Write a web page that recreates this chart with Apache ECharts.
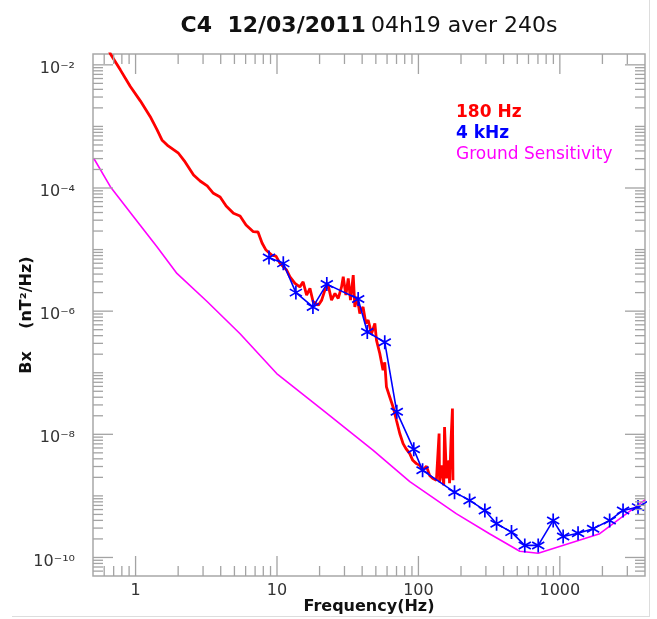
<!DOCTYPE html>
<html>
<head>
<meta charset="utf-8">
<script src="https://cdn.jsdelivr.net/npm/echarts@6/dist/echarts.min.js"></script>
<style>
  html, body { margin: 0; padding: 0; background: #fff; }
  #chart { width: 657px; height: 619px; }
</style>
</head>
<body>
<div id="chart"></div>
<script>
// Bx power spectral density, C4, 12/03/2011 04h19, 240 s average

// 180 Hz sampled spectrum
const redFreq = [0.611,0.663,0.780,0.918,1.08,1.27,1.42,1.536,1.70,2.01,2.24,2.57,2.86,3.21,3.55,3.96,4.37,4.92,5.48,6.04,6.80,7.34,7.84,8.36,9.18,9.84,10.5,11.7,12.35,13.4,14.5,15.3,16.2,17.1,18.0,19.6,20.7,21.8,23.0,24.3,25.7,27.1,28.6,29.4,30.7,31.9,33.1,34.6,35.5,36.9,38.5,40.6,42.5,44.1,46.6,49.2,50.5,53.3,56.2,57.8,59.4,62.7,66.2,69.9,73.8,77.9,81.4,86.8,91.2,96.8,102,107,114,120,126,134,140,141,146,151,153,158,164,166,170,174,175.5];
const redVal = [2.55e-2,1.51e-2,8.29e-3,4.44e-3,2.60e-3,1.44e-3,8.77e-4,6.03e-4,4.82e-4,3.67e-4,2.65e-4,1.63e-4,1.30e-4,1.08e-4,8.20e-5,7.14e-5,5.09e-5,3.88e-5,3.51e-5,2.50e-5,1.95e-5,1.93e-5,1.28e-5,9.82e-6,8.14e-6,7.84e-6,5.97e-6,4.65e-6,3.61e-6,2.82e-6,2.48e-6,2.99e-6,1.82e-6,2.34e-6,1.42e-6,1.25e-6,1.51e-6,2.19e-6,2.65e-6,1.51e-6,1.94e-6,1.61e-6,2.48e-6,3.61e-6,1.82e-6,3.40e-6,1.51e-6,3.85e-6,1.17e-6,1.71e-6,9.18e-7,1.17e-6,6.31e-7,7.14e-7,4.34e-7,6.31e-7,3.38e-7,2.05e-7,1.10e-7,1.48e-7,5.88e-8,4.04e-8,2.78e-8,1.69e-8,1.03e-8,7.06e-9,5.92e-9,4.85e-9,3.78e-9,3.34e-9,3.13e-9,2.60e-9,3.02e-9,2.15e-9,1.93e-9,1.79e-9,1.03e-8,1.66e-9,3.13e-9,1.48e-9,1.31e-8,1.93e-9,3.78e-9,1.60e-9,7.98e-9,2.62e-8,1.79e-9];

// 4 kHz sampled spectrum (band averages)
const blueFreq = [8.78,11.08,13.6,17.95,22.5,37.5,43.5,57.8,70.3,92.7,107,180,230,295,357,455,565,703,897,1055,1345,1718,2250,2798,3570,4500];
const blueVal = [7.41e-6,5.97e-6,2.00e-6,1.17e-6,2.75e-6,1.57e-6,4.60e-7,3.13e-7,2.32e-8,5.70e-9,2.60e-9,1.15e-9,8.45e-10,5.81e-10,3.53e-10,2.58e-10,1.57e-10,1.57e-10,4.00e-10,2.19e-10,2.48e-10,2.93e-10,4.00e-10,5.81e-10,6.57e-10,9.1e-10];

// Ground sensitivity of the search coil
const gsFreq = [0.506,0.663,0.968,1.416,1.96,3.19,5.48,9.95,21.2,47.9,86.9,185,318,521,703,1914,4000];
const gsVal = [3.04e-4,1.05e-4,3.41e-5,1.11e-5,4.10e-6,1.45e-6,4.3e-7,9.7e-8,2.45e-8,5.5e-9,1.7e-9,5.14e-10,2.43e-10,1.26e-10,1.17e-10,2.43e-10,8.6e-10];

// Axis ranges and labelled decades
const X_MIN = 0.5, X_MAX = 4000;
const Y_MIN = 5e-11, Y_MAX = 1.5e-2;
const xLabelTicks = [1, 10, 100, 1000];
const yLabelExponents = [-10, -8, -6, -4, -2];

const FONT = 'DejaVu Sans';
const TICK_COLOR = '#a3a3a3';

const SUP = {'-':'\u207B','0':'\u2070','1':'\u00B9','2':'\u00B2','3':'\u00B3','4':'\u2074','5':'\u2075','6':'\u2076','7':'\u2077','8':'\u2078','9':'\u2079'};
function pow10Label(v) {
  const e = Math.round(Math.log10(v));
  if (yLabelExponents.indexOf(e) < 0) return '';
  return '{p|10' + String(e).split('').map(c => SUP[c]).join('') + '}';
}
function freqLabel(v) {
  const r = Math.round(v);
  return xLabelTicks.indexOf(r) >= 0 && Math.abs(v - r) < 1e-6 * r ? String(r) : '';
}

// Log-axis tick marks (decades and their 2..9 multiples)
const xTicks = [];
for (let d = -1; d <= 3; d++) {
  for (let m = 1; m <= 9; m++) {
    const v = m * Math.pow(10, d);
    if (v > X_MIN * 1.001 && v < X_MAX * 0.999) {
      xTicks.push([v, Y_MIN, (m === 1 && xLabelTicks.indexOf(Math.round(v)) >= 0) ? 1 : 0]);
    }
  }
}
const yTicks = [];
for (let d = -11; d <= -2; d++) {
  for (let m = 1; m <= 9; m++) {
    const v = m * Math.pow(10, d);
    if (v > Y_MIN * 1.001 && v < Y_MAX * 0.999) {
      yTicks.push([X_MIN, v, (m === 1 && yLabelExponents.indexOf(d) >= 0) ? 1 : 0]);
    }
  }
}

const zip = (a, b) => a.map((x, i) => [x, b[i]]);

const chart = echarts.init(document.getElementById('chart'), null, { renderer: 'canvas' });

chart.setOption({
  animation: false,
  backgroundColor: '#ffffff',
  title: {
    text: '{b|C4  12/03/2011} {n|04h19 aver 240s}',
    left: 364,
    textAlign: 'center',
    top: 10,
    textStyle: {
      rich: {
        b: { fontFamily: FONT, fontSize: 22, fontWeight: 'bold', color: '#111' },
        n: { fontFamily: FONT, fontSize: 22, fontWeight: 'normal', color: '#111' }
      }
    }
  },
  legend: {
    orient: 'vertical',
    left: 446,
    top: 99,
    itemWidth: 0,
    itemHeight: 0,
    itemGap: 4,
    icon: 'none',
    selectedMode: false,
    textStyle: { fontFamily: FONT, fontSize: 17 },
    data: [
      { name: '180 Hz', textStyle: { color: '#ff0000', fontWeight: 'bold' } },
      { name: '4 kHz', textStyle: { color: '#0000ff', fontWeight: 'bold' } },
      { name: 'Ground Sensitivity', textStyle: { color: '#ff00ff', fontWeight: 'normal' } }
    ]
  },
  grid: {
    left: 93, right: 12, top: 54, bottom: 43,
    show: true, borderColor: '#a8a8a8', borderWidth: 1.5,
    containLabel: false,
    outerBoundsMode: 'none'
  },
  xAxis: {
    type: 'log', logBase: 10, min: X_MIN, max: X_MAX,
    name: 'Frequency(Hz)', nameLocation: 'middle', nameGap: 23, nameMoveOverlap: false,
    nameTextStyle: { fontFamily: FONT, fontSize: 16, fontWeight: 'bold', color: '#111' },
    axisLine: { show: false }, axisTick: { show: false }, splitLine: { show: false },
    axisLabel: {
      show: true, margin: 7, fontFamily: FONT, fontSize: 16, color: '#333',
      showMinLabel: false, showMaxLabel: false,
      formatter: freqLabel
    }
  },
  yAxis: {
    type: 'log', logBase: 10, min: Y_MIN, max: Y_MAX,
    name: 'Bx    (nT\u00B2/Hz)', nameLocation: 'middle', nameRotate: 90, nameGap: 58, nameMoveOverlap: false,
    nameTextStyle: { fontFamily: FONT, fontSize: 16, fontWeight: 'bold', color: '#111' },
    axisLine: { show: false }, axisTick: { show: false }, splitLine: { show: false },
    axisLabel: {
      show: true, margin: 18, fontFamily: FONT, fontSize: 16, color: '#333',
      showMinLabel: false, showMaxLabel: false,
      formatter: pow10Label,
      rich: {
        p: { fontFamily: FONT, fontSize: 16, color: '#333', padding: [8, 0, 0, 0] }
      }
    }
  },
  graphic: [
    { type: 'line', silent: true, shape: { x1: 649.5, y1: 0, x2: 649.5, y2: 617 }, style: { stroke: '#dddddd', lineWidth: 1 } },
    { type: 'line', silent: true, shape: { x1: 12, y1: 616.5, x2: 649.5, y2: 616.5 }, style: { stroke: '#dddddd', lineWidth: 1 } }
  ],
  series: [
    {
      name: 'Ground Sensitivity', type: 'line', data: zip(gsFreq, gsVal),
      showSymbol: false, symbol: 'none', clip: true,
      lineStyle: { color: '#ff00ff', width: 1.6 }, itemStyle: { color: '#ff00ff' }, z: 2
    },
    {
      name: '180 Hz', type: 'line', data: zip(redFreq, redVal),
      showSymbol: false, symbol: 'none', clip: true,
      lineStyle: { color: '#ff0000', width: 2.8 }, itemStyle: { color: '#ff0000' }, z: 3
    },
    {
      name: '4 kHz', type: 'line', data: zip(blueFreq, blueVal),
      symbol: 'path://M0,-10L0,10M-8.66,-5L8.66,5M-8.66,5L8.66,-5',
      symbolSize: 14, symbolKeepAspect: true, clip: true,
      lineStyle: { color: '#0000ff', width: 1.6 },
      itemStyle: { color: 'rgba(0,0,0,0)', borderColor: '#0000ff', borderWidth: 1.7 },
      z: 4
    },
    {
      name: 'xticks', type: 'custom', silent: true, z: 5, data: xTicks,
      renderItem: (params, api) => {
        const cs = params.coordSys;
        const x = api.coord([api.value(0), Y_MIN])[0];
        const len = api.value(2) ? 20 : 10;
        const st = { stroke: TICK_COLOR, lineWidth: 1.3 };
        return { type: 'group', children: [
          { type: 'line', shape: { x1: x, y1: cs.y + cs.height, x2: x, y2: cs.y + cs.height - len }, style: st },
          { type: 'line', shape: { x1: x, y1: cs.y, x2: x, y2: cs.y + len }, style: st }
        ] };
      }
    },
    {
      name: 'yticks', type: 'custom', silent: true, z: 5, data: yTicks,
      renderItem: (params, api) => {
        const cs = params.coordSys;
        const y = api.coord([X_MIN, api.value(1)])[1];
        const len = api.value(2) ? 20 : 10;
        const st = { stroke: TICK_COLOR, lineWidth: 1.3 };
        return { type: 'group', children: [
          { type: 'line', shape: { x1: cs.x, y1: y, x2: cs.x + len, y2: y }, style: st },
          { type: 'line', shape: { x1: cs.x + cs.width, y1: y, x2: cs.x + cs.width - len, y2: y }, style: st }
        ] };
      }
    }
  ]
});
</script>
</body>
</html>
